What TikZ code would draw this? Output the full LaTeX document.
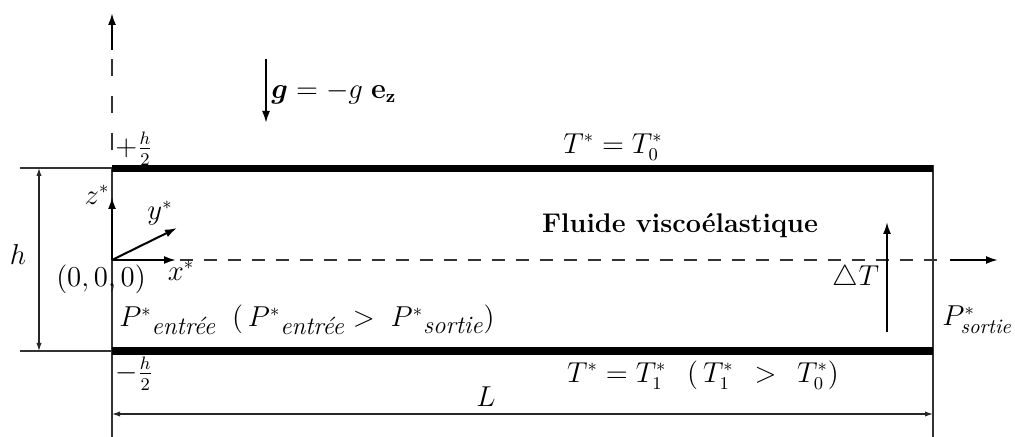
\documentclass[tikz,border=0pt]{standalone}
\usepackage{amsmath}
\usetikzlibrary{arrows.meta}
\newcommand{\subtxt}[1]{\hbox{\fontsize{12.5}{14}\selectfont\itshape #1}}
\newcommand{\smalltxt}[1]{\hbox{\fontsize{10.3}{12}\selectfont\itshape #1}}
\begin{document}
\begin{tikzpicture}[x=0.5pt,y=-0.5pt,font=\fontsize{13.5}{16}\selectfont,
  thinline/.style={line width=0.55pt,black!80},
  plate/.style={line width=3.8pt},
  bigarrow/.style={line width=1pt,-{Latex[length=6pt,width=4pt]}},
  dimarrow/.style={line width=0.55pt,black!85,{Latex[length=4pt,width=2.6pt]}-{Latex[length=4pt,width=2.6pt]}},
  lbl/.style={inner sep=0pt}]
\useasboundingbox (0,0) rectangle (1015,437);
% coordinates
\coordinate (TL) at (112,168.5); \coordinate (TR) at (933,168.5);
\coordinate (BL) at (112,351);   \coordinate (BR) at (933,351);
\coordinate (LWtop) at (112,168); \coordinate (LWbot) at (112,437);
\coordinate (RWtop) at (933,165); \coordinate (RWbot) at (933,437);
\coordinate (Vdash) at (112,50);  \coordinate (Vtip) at (112,13);
\coordinate (Vbase) at (112,165);
\coordinate (O) at (112,260);
\coordinate (Zt) at (112,197); \coordinate (Yt) at (177,228); \coordinate (Xt) at (176,260);
\coordinate (Cs) at (180,260); \coordinate (Ce) at (945,260);
\coordinate (As) at (950,260); \coordinate (Ae) at (998,260);
\coordinate (Gs) at (266,59); \coordinate (Ge) at (266,123);
\coordinate (Ds) at (887,332); \coordinate (De) at (887,222);
\coordinate (HLt) at (20,168); \coordinate (HLb) at (20,351);
\coordinate (Ht) at (39,168); \coordinate (Hb) at (39,351);
\coordinate (Ll) at (112,414); \coordinate (Lr) at (933,414);
% walls and plates
\draw[thinline] (LWtop) -- (LWbot);
\draw[thinline] (RWtop) -- (RWbot);
\draw[plate] (TL) -- (TR);
\draw[plate] (BL) -- (BR);
% vertical axis above
\draw[thinline,dash pattern=on 8.5pt off 10pt,dash phase=14pt] (Vdash) -- (Vbase);
\draw[bigarrow] (Vdash) -- (Vtip);
% centerline
\draw[thinline,dash pattern=on 6.5pt off 5.5pt] (Cs) -- (Ce);
\draw[bigarrow] (As) -- (Ae);
% axes
\draw[bigarrow] (O) -- (Zt);
\draw[bigarrow] (O) -- (Yt);
\draw[bigarrow] (O) -- (Xt);
% gravity and delta T
\draw[bigarrow] (Gs) -- (Ge);
\draw[bigarrow] (Ds) -- (De);
% dimensions
\draw[thinline] (HLt) -- (LWtop);
\draw[thinline] (HLb) -- (BL);
\draw[dimarrow] (Ht) -- (Hb);
\draw[dimarrow] (Ll) -- (Lr);
% labels
\node[lbl,anchor=west] (glab) at (271,93) {$\boldsymbol{g} = -g\;\mathbf{e_z}$};
\node[lbl] (hp) at (134,149) {$+\frac{h}{2}$};
\node[lbl] (T0) at (613,147) {$T^* = T^*_0$};
\node[lbl] (zl) at (97,195) {$z^*$};
\node[lbl] (yl) at (160,213) {$y^*$};
\node[lbl] (xl) at (181,271) {$x^*$};
\node[lbl] (orig) at (101,279) {$(0,0,0)$};
\node[lbl] (hl) at (18,255) {$h$};
\node[lbl] (fl) at (680,226) {\textbf{Fluide viscoélastique}};
\node[lbl] (dT) at (856,278) {$\triangle T$};
\node[lbl,anchor=west] (Ps) at (942,320) {$P^*_{\smalltxt{sortie}}$};
\node[lbl,anchor=base west] (Pe) at (119,327) {$P^*{}_{\subtxt{entrée}}\;\;(\,P^*{}_{\subtxt{entrée}}>\;P^*{}_{\subtxt{sortie}})$};
\node[lbl] (hm) at (134,374) {$-\frac{h}{2}$};
\node[lbl] (T1) at (703,375) {$T^* = T^*_1\;\;\,(\,T^*_1\;\,>\;\,T^*_0)$};
\node[lbl] (Ll2) at (486,397) {$L$};
\end{tikzpicture}
\end{document}
